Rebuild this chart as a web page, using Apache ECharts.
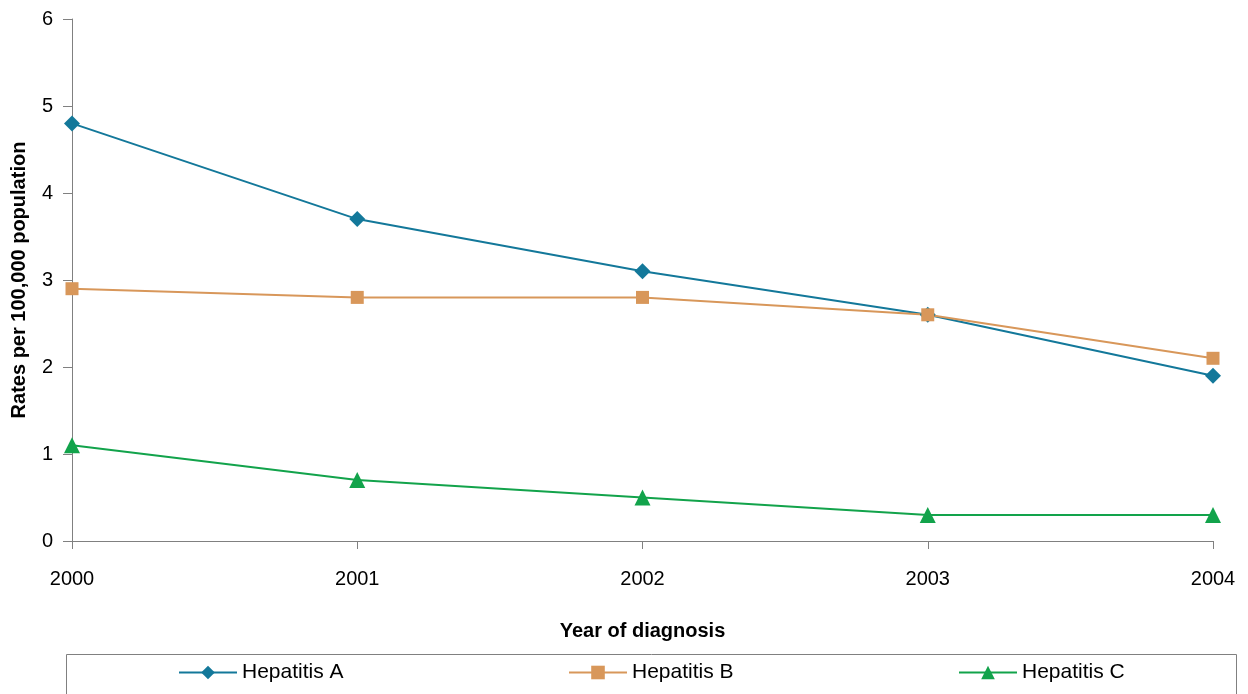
<!DOCTYPE html>
<html><head><meta charset="utf-8">
<script src="https://cdn.jsdelivr.net/npm/echarts@6/dist/echarts.min.js"></script>
<style>html,body{margin:0;padding:0;background:#fff}#c{width:1248px;height:694px}</style>
</head><body><div id="c"></div>
<script>
const years = ['2000','2001','2002','2003','2004'];
const hepA = [4.8, 3.7, 3.1, 2.6, 1.9];
const hepB = [2.9, 2.8, 2.8, 2.6, 2.1];
const hepC = [1.1, 0.7, 0.5, 0.3, 0.3];
const yTicks = [0, 1, 2, 3, 4, 5, 6];
const names = ['Hepatitis A', 'Hepatitis B', 'Hepatitis C'];

const colA = '#13789a', colB = '#d8975a', colC = '#12a34b';
const font = 'Liberation Sans, Arial, sans-serif';
const chart = echarts.init(document.getElementById('c'), null, {renderer: 'canvas'});
function mkLegend(name, left) {
  return {
    data: [name], left: left, top: 662, orient: 'horizontal',
    itemWidth: 58, itemHeight: 17, itemGap: 0,
    textStyle: {fontFamily: font, fontSize: 21, color: '#000', padding: [0,0,0,0]},
    padding: 0
  };
}
chart.setOption({
  animation: false,
  backgroundColor: '#fff',
  grid: {left: 72, right: 35, top: 19, bottom: 153, containLabel: false, outerBoundsMode: 'none'},
  xAxis: {
    type: 'category', data: years, boundaryGap: false,
    axisLine: {lineStyle: {color: '#808080', width: 1}},
    axisTick: {show: true, length: 8, lineStyle: {color: '#808080'}, alignWithLabel: true},
    axisLabel: {fontFamily: font, fontSize: 20, color: '#000', margin: 28},
    name: 'Year of diagnosis', nameLocation: 'middle', nameGap: 80,
    nameTextStyle: {fontFamily: font, fontSize: 20, fontWeight: 'bold', color: '#000'},
    splitLine: {show: false}
  },
  yAxis: {
    type: 'value', min: yTicks[0], max: yTicks[yTicks.length-1], interval: 1,
    axisLine: {show: true, lineStyle: {color: '#808080', width: 1}},
    axisTick: {show: true, length: 9, lineStyle: {color: '#808080'}},
    axisLabel: {fontFamily: font, fontSize: 20, color: '#000', margin: 19},
    splitLine: {show: false},
    name: 'Rates per 100,000 population', nameLocation: 'middle', nameGap: 43, nameRotate: 90,
    nameTextStyle: {fontFamily: font, fontSize: 20, fontWeight: 'bold', color: '#000'}
  },
  legend: [mkLegend(names[0], 178), mkLegend(names[1], 568), mkLegend(names[2], 958)],
  graphic: [{
    type: 'rect', left: 64, top: 652, shape: {width: 1170, height: 60},
    style: {fill: 'none', stroke: '#808080', lineWidth: 1}, silent: true, z: -1
  }],
  series: [
    {name: names[0], type: 'line', data: hepA, symbol: 'diamond', symbolSize: 16,
     itemStyle: {color: colA}, lineStyle: {color: colA, width: 2}},
    {name: names[1], type: 'line', data: hepB, symbol: 'rect', symbolSize: 13,
     itemStyle: {color: colB}, lineStyle: {color: colB, width: 2}},
    {name: names[2], type: 'line', data: hepC, symbol: 'triangle', symbolSize: 16,
     itemStyle: {color: colC}, lineStyle: {color: colC, width: 2}}
  ]
});
</script></body></html>
